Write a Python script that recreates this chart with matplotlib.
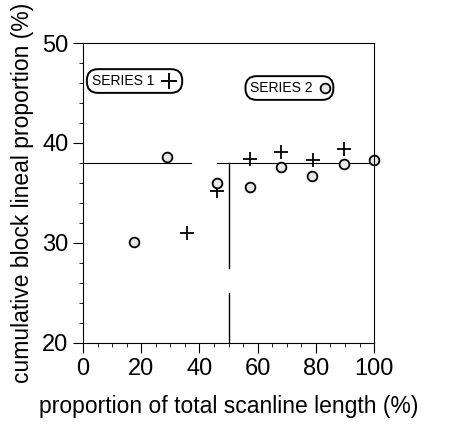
import matplotlib
matplotlib.use("Agg")
import matplotlib.pyplot as plt
from matplotlib.ticker import MultipleLocator

plt.rcParams['font.family'] = ['Liberation Sans', 'DejaVu Sans']

# series 1 (+)
s1_x = [35.7, 46, 57.4, 68, 79, 89.7]
s1_y = [31.0, 35.2, 38.4, 39.1, 38.3, 39.4]
# series 2 (circles)
s2_x = [17.5, 28.9, 46, 57.4, 68, 78.7, 89.7, 100]
s2_y = [30.1, 38.6, 36.0, 35.6, 37.6, 36.7, 37.9, 38.3]

# step lines (mean proportion)
level = 38.0
step_left = [0, 37]
step_right = [46, 100]
split_x = 50

fig = plt.figure(figsize=(4.52, 4.26), dpi=100)
ax = fig.add_axes([0.1836, 0.195, 0.644, 0.704])

ax.plot(step_left, [level, level], color='black', lw=0.8)
ax.plot(step_right, [level, level], color='black', lw=0.8)
ax.plot([split_x, split_x], [level, 27.5], color='black', lw=1.0)
ax.plot([split_x, split_x], [25.0, 20], color='black', lw=1.0)

ax.plot(s1_x, s1_y, linestyle='none', marker='+', ms=10, mew=1.3, color='black')
ax.plot(s2_x, s2_y, linestyle='none', marker='o', ms=7, mew=1.3,
        mfc='#e8e8e8', mec='black', clip_on=False)

ax.set_xlim(0, 100)
ax.set_ylim(20, 50)
ax.xaxis.set_major_locator(MultipleLocator(20))
ax.xaxis.set_minor_locator(MultipleLocator(5))
ax.yaxis.set_major_locator(MultipleLocator(10))
ax.yaxis.set_minor_locator(MultipleLocator(2))
ax.tick_params(which='major', direction='out', length=7, width=0.8, labelsize=17)
ax.tick_params(axis='x', which='major', pad=4)
ax.tick_params(which='minor', direction='out', length=3, width=0.6)
for sp in ax.spines.values():
    sp.set_linewidth(0.8)

ax.set_xlabel('proportion of total scanline length (%)', fontsize=16.5, labelpad=11)
ax.set_ylabel('cumulative block lineal proportion (%)', fontsize=16.5, labelpad=6)

box = dict(boxstyle='round,pad=0.35,rounding_size=0.8', fc='white', ec='black', lw=1.4)
ax.text(3, 46.2, 'SERIES 1      ', fontsize=10, va='center', ha='left', bbox=box)
ax.plot([29.5], [46.2], linestyle='none', marker='+', ms=11, mew=1.4,
        color='black', zorder=6)
ax.text(57.5, 45.5, 'SERIES 2    ', fontsize=10, va='center', ha='left', bbox=box)
ax.plot([83], [45.5], linestyle='none', marker='o', ms=7, mew=1.3,
        mfc='#e8e8e8', mec='black', zorder=6)

fig.savefig('out.png', dpi=100)
